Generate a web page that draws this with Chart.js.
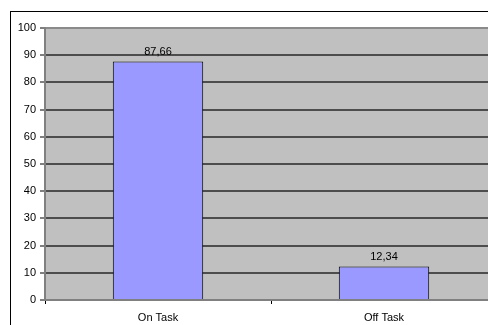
<!DOCTYPE html>
<html>
<head>
<meta charset="utf-8">
<script src="https://cdn.jsdelivr.net/npm/chart.js@4"></script>
<style>
  html, body { margin: 0; padding: 0; background: #fff; overflow: hidden; width: 488px; height: 325px; }
  #wrap { position: absolute; left: 0; top: 0; width: 520px; height: 340px; }
</style>
</head>
<body>
<div id="wrap"><canvas id="chart" width="520" height="340"></canvas></div>
<script>
const categories = ["On Task", "Off Task"];
const values = [87.66, 12.34];
const yTicks = [0, 10, 20, 30, 40, 50, 60, 70, 80, 90, 100];

// outer frame + grey plot background + value labels
const excelLook = {
  id: "excelLook",
  beforeDraw(chart) {
    const ctx = chart.ctx, a = chart.chartArea;
    ctx.save();
    ctx.fillStyle = "#fff";
    ctx.fillRect(0, 0, chart.width, chart.height);
    ctx.strokeStyle = "#000";
    ctx.lineWidth = 1;
    ctx.strokeRect(10.5, 11.5, chart.width, chart.height);
    ctx.fillStyle = "#c0c0c0";
    ctx.fillRect(a.left, a.top, a.right - a.left, a.bottom - a.top);
    ctx.restore();
  },
  afterDatasetsDraw(chart) {
    const ctx = chart.ctx;
    ctx.save();
    ctx.font = "11px 'Liberation Sans', Arial, sans-serif";
    ctx.fillStyle = "#000";
    ctx.textAlign = "center";
    ctx.textBaseline = "bottom";
    chart.getDatasetMeta(0).data.forEach((bar, i) => {
      ctx.fillText(values[i].toFixed(2).replace(".", ","), bar.x, bar.y - 4);
    });
    ctx.restore();
  }
};

new Chart(document.getElementById("chart"), {
  type: "bar",
  data: {
    labels: categories,
    datasets: [{
      data: values,
      backgroundColor: "#9999ff",
      borderColor: "#000",
      borderWidth: 1,
      barPercentage: 0.4,
      categoryPercentage: 1
    }]
  },
  options: {
    responsive: false,
    animation: false,
    layout: { padding: { left: 0, top: 28, right: 23, bottom: 10 } },
    plugins: { legend: { display: false }, tooltip: { enabled: false } },
    scales: {
      x: {
        offset: true,
        grid: { offset: true, drawOnChartArea: false, tickLength: 4, color: "#000" },
        border: { color: "#808080", width: 2 },
        ticks: { color: "#000", font: { family: "'Liberation Sans', Arial", size: 11 }, padding: 7 },
        afterFit(s) { s.height = 30; }
      },
      y: {
        min: 0,
        max: 100,
        afterBuildTicks(s) { s.ticks = yTicks.map(v => ({ value: v })); },
        grid: {
          tickLength: 5,
          lineWidth: 2,
          color: c => (c.tick && (c.tick.value === 100 || c.tick.value === 0)) ? "#8a8a8a" : "#4d4d4d",
          tickColor: "#000",
          tickWidth: 1
        },
        border: { color: "#808080", width: 2 },
        ticks: { color: "#000", font: { family: "'Liberation Sans', Arial", size: 11 }, padding: 4 },
        afterFit(s) { s.width = 45; }
      }
    }
  },
  plugins: [excelLook]
});
</script>
</body>
</html>
